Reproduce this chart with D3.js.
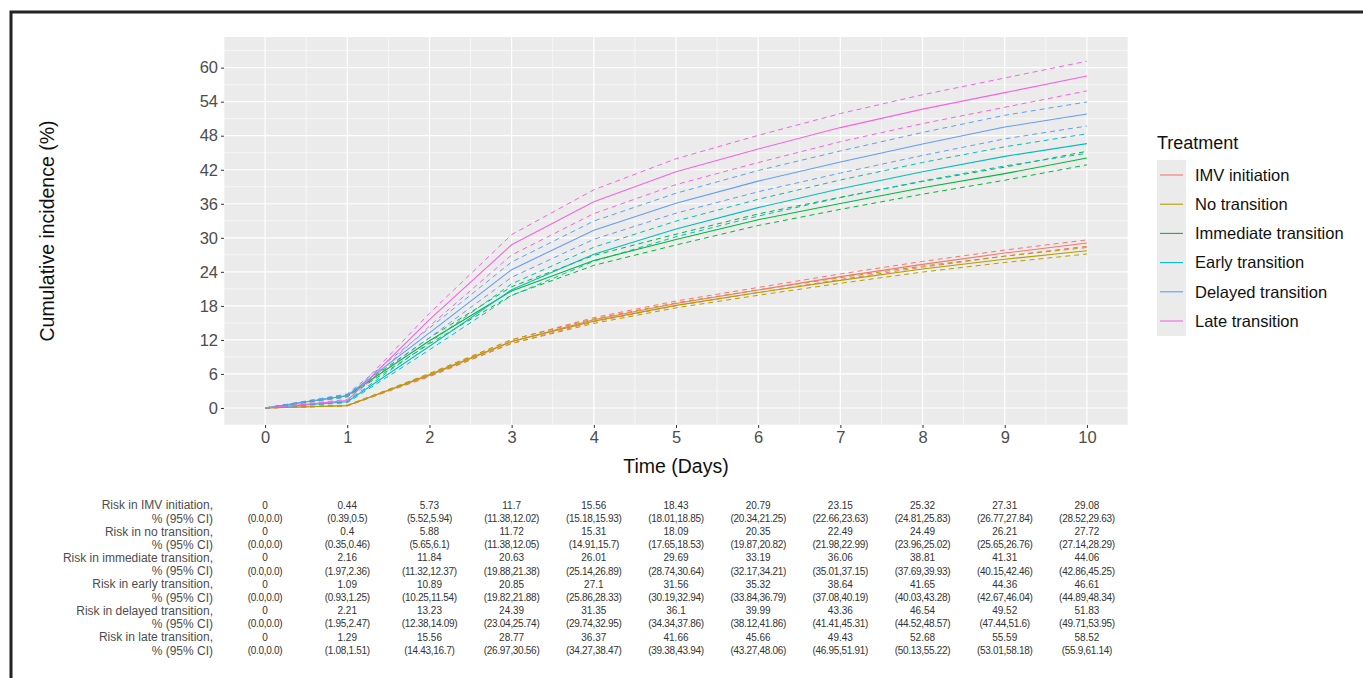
<!DOCTYPE html>
<html>
<head>
<meta charset="utf-8">
<script src="https://cdn.jsdelivr.net/npm/d3@7"></script>
<style>
  body { margin: 0; background: #fff; }
  text { font-family: "Liberation Sans", Arial, sans-serif; }
</style>
</head>
<body>
<svg id="chart" width="1363" height="678"></svg>
<script>
const days = [0, 1, 2, 3, 4, 5, 6, 7, 8, 9, 10];
const treatments = ["IMV initiation", "No transition", "Immediate transition", "Early transition", "Delayed transition", "Late transition"];
const colors = ["#F8766D", "#B79F00", "#00BA38", "#00BFC4", "#619CFF", "#F564E3"];
const rowLabels = ["Risk in IMV initiation,", "Risk in no transition,", "Risk in immediate transition,", "Risk in early transition,", "Risk in delayed transition,", "Risk in late transition,"];

const imvEst = [0, 0.44, 5.73, 11.7, 15.56, 18.43, 20.79, 23.15, 25.32, 27.31, 29.08];
const imvLo = [0, 0.39, 5.52, 11.38, 15.18, 18.01, 20.34, 22.66, 24.81, 26.77, 28.52];
const imvHi = [0, 0.5, 5.94, 12.02, 15.93, 18.85, 21.25, 23.63, 25.83, 27.84, 29.63];

const noEst = [0, 0.4, 5.88, 11.72, 15.31, 18.09, 20.35, 22.49, 24.49, 26.21, 27.72];
const noLo = [0, 0.35, 5.65, 11.38, 14.91, 17.65, 19.87, 21.98, 23.96, 25.65, 27.14];
const noHi = [0, 0.46, 6.1, 12.05, 15.7, 18.53, 20.82, 22.99, 25.02, 26.76, 28.29];

const immEst = [0, 2.16, 11.84, 20.63, 26.01, 29.69, 33.19, 36.06, 38.81, 41.31, 44.06];
const immLo = [0, 1.97, 11.32, 19.88, 25.14, 28.74, 32.17, 35.01, 37.69, 40.15, 42.86];
const immHi = [0, 2.36, 12.37, 21.38, 26.89, 30.64, 34.21, 37.15, 39.93, 42.46, 45.25];

const earlyEst = [0, 1.09, 10.89, 20.85, 27.1, 31.56, 35.32, 38.64, 41.65, 44.36, 46.61];
const earlyLo = [0, 0.93, 10.25, 19.82, 25.86, 30.19, 33.84, 37.08, 40.03, 42.67, 44.89];
const earlyHi = [0, 1.25, 11.54, 21.88, 28.33, 32.94, 36.79, 40.19, 43.28, 46.04, 48.34];

const delayedEst = [0, 2.21, 13.23, 24.39, 31.35, 36.1, 39.99, 43.36, 46.54, 49.52, 51.83];
const delayedLo = [0, 1.95, 12.38, 23.04, 29.74, 34.34, 38.12, 41.41, 44.52, 47.44, 49.71];
const delayedHi = [0, 2.47, 14.09, 25.74, 32.95, 37.86, 41.86, 45.31, 48.57, 51.6, 53.95];

const lateEst = [0, 1.29, 15.56, 28.77, 36.37, 41.66, 45.66, 49.43, 52.68, 55.59, 58.52];
const lateLo = [0, 1.08, 14.43, 26.97, 34.27, 39.38, 43.27, 46.95, 50.13, 53.01, 55.9];
const lateHi = [0, 1.51, 16.7, 30.56, 38.47, 43.94, 48.06, 51.91, 55.22, 58.18, 61.14];

const yTicks = [0, 6, 12, 18, 24, 30, 36, 42, 48, 54, 60];

const series = [
  { est: imvEst, lo: imvLo, hi: imvHi },
  { est: noEst, lo: noLo, hi: noHi },
  { est: immEst, lo: immLo, hi: immHi },
  { est: earlyEst, lo: earlyLo, hi: earlyHi },
  { est: delayedEst, lo: delayedLo, hi: delayedHi },
  { est: lateEst, lo: lateLo, hi: lateHi },
];

const svg = d3.select("#chart");

// outer frame
svg.append("rect")
  .attr("x", 11).attr("y", 12).attr("width", 1400).attr("height", 700)
  .attr("fill", "none").attr("stroke", "#222").attr("stroke-width", 3);

const panel = { left: 224, right: 1128, top: 37, bottom: 425 };
const x = d3.scaleLinear().domain([-0.5, 10.5]).range([panel.left, panel.right]);
const y = d3.scaleLinear().domain([-3, 65.4]).range([panel.bottom, panel.top]);

svg.append("rect")
  .attr("x", panel.left).attr("y", panel.top)
  .attr("width", panel.right - panel.left).attr("height", panel.bottom - panel.top)
  .attr("fill", "#EBEBEB");

const grid = svg.append("g");
// minor grid
const xMinor = d3.range(-0.5, 10.51, 1);
const yMinor = d3.range(-3, 63.1, 6);
grid.selectAll(".xmin").data(xMinor).enter().append("line")
  .attr("x1", (d) => x(d)).attr("x2", (d) => x(d))
  .attr("y1", panel.top).attr("y2", panel.bottom)
  .attr("stroke", "#fff").attr("stroke-width", 0.6);
grid.selectAll(".ymin").data(yMinor).enter().append("line")
  .attr("y1", (d) => y(d)).attr("y2", (d) => y(d))
  .attr("x1", panel.left).attr("x2", panel.right)
  .attr("stroke", "#fff").attr("stroke-width", 0.6);
// major grid
grid.selectAll(".xmaj").data(days).enter().append("line")
  .attr("x1", (d) => x(d)).attr("x2", (d) => x(d))
  .attr("y1", panel.top).attr("y2", panel.bottom)
  .attr("stroke", "#fff").attr("stroke-width", 1.2);
grid.selectAll(".ymaj").data(yTicks).enter().append("line")
  .attr("y1", (d) => y(d)).attr("y2", (d) => y(d))
  .attr("x1", panel.left).attr("x2", panel.right)
  .attr("stroke", "#fff").attr("stroke-width", 1.2);

// axes
const xAxis = svg.append("g")
  .attr("transform", `translate(0,${panel.bottom})`)
  .call(d3.axisBottom(x).tickValues(days).tickSize(3).tickPadding(3));
const yAxis = svg.append("g")
  .attr("transform", `translate(${panel.left},0)`)
  .call(d3.axisLeft(y).tickValues(yTicks).tickSize(3).tickPadding(3));
[xAxis, yAxis].forEach((a) => {
  a.select(".domain").remove();
  a.selectAll("line").attr("stroke", "#333");
  a.selectAll("text").attr("fill", "#4D4D4D").style("font-size", "16.5px")
    .style("font-family", "'Liberation Sans', Arial, sans-serif");
});

svg.append("text")
  .attr("x", x(5)).attr("y", 473)
  .attr("text-anchor", "middle").style("font-size", "19.5px").attr("fill", "#111")
  .text("Time (Days)");
svg.append("text")
  .attr("transform", `translate(54,${(panel.top + panel.bottom) / 2}) rotate(-90)`)
  .attr("text-anchor", "middle").style("font-size", "19.5px").attr("fill", "#111")
  .text("Cumulative incidence (%)");

// lines
const line = d3.line()
  .x((d, i) => x(days[i]))
  .y((d) => y(d));

const lines = svg.append("g");
series.forEach((s, k) => {
  [s.lo, s.hi].forEach((arr) => {
    lines.append("path")
      .attr("d", line(arr))
      .attr("fill", "none")
      .attr("stroke", colors[k])
      .attr("stroke-width", 1)
      .attr("stroke-dasharray", "5,4");
  });
});
series.forEach((s, k) => {
  lines.append("path")
    .attr("d", line(s.est))
    .attr("fill", "none")
    .attr("stroke", colors[k])
    .attr("stroke-width", 1.1);
});

// legend
const legend = svg.append("g");
legend.append("text")
  .attr("x", 1157).attr("y", 149)
  .style("font-size", "18px").attr("fill", "#111")
  .text("Treatment");
legend.append("rect")
  .attr("x", 1157).attr("y", 160).attr("width", 29).attr("height", 176)
  .attr("fill", "#EBEBEB");
const legendY = d3.scalePoint().domain(treatments).range([175, 321]);
legend.selectAll(".key").data(treatments).enter().append("line")
  .attr("x1", 1160).attr("x2", 1183)
  .attr("y1", (d) => legendY(d)).attr("y2", (d) => legendY(d))
  .attr("stroke", (d, i) => colors[i]).attr("stroke-width", 1.1);
legend.selectAll(".lab").data(treatments).enter().append("text")
  .attr("x", 1195).attr("y", (d) => legendY(d))
  .attr("dy", "0.35em")
  .style("font-size", "16.5px").attr("fill", "#111")
  .text((d) => d);

// risk table
const fmt = (v) => (v === 0 ? "0.0" : String(v));
const rowY = d3.scaleLinear().domain([0, 5]).range([505, 637]);
const table = svg.append("g");
rowLabels.forEach((lab, r) => {
  const y0 = rowY(r);
  table.append("text")
    .attr("x", 213).attr("y", y0).attr("dy", "0.35em")
    .attr("text-anchor", "end").style("font-size", "12px").attr("fill", "#4D4D4D")
    .text(lab);
  table.append("text")
    .attr("x", 213).attr("y", y0 + 13.3).attr("dy", "0.35em")
    .attr("text-anchor", "end").style("font-size", "12px").attr("fill", "#4D4D4D")
    .text("% (95% CI)");
  const s = series[r];
  days.forEach((d, i) => {
    table.append("text")
      .attr("x", x(d)).attr("y", y0).attr("dy", "0.35em")
      .attr("text-anchor", "middle").style("font-size", "10px").attr("fill", "#333")
      .text(s.est[i]);
    table.append("text")
      .attr("x", x(d)).attr("y", y0 + 13.3).attr("dy", "0.35em")
      .attr("text-anchor", "middle").style("font-size", "10px").attr("fill", "#333")
      .attr("letter-spacing", "-0.3")
      .text(`(${fmt(s.lo[i])},${fmt(s.hi[i])})`);
  });
});
</script>
</body>
</html>
